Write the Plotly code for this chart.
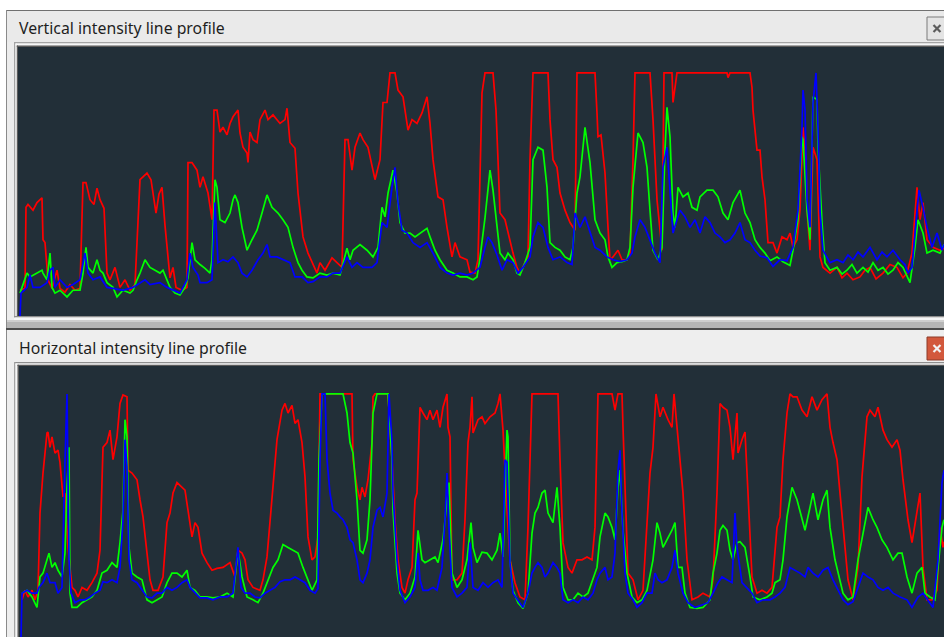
import plotly.graph_objects as go

W, H = 944, 637

# ---- Data: (sample position along the profile, intensity 0-255) ----
TOP_RED = [(2,27),(7,29),(8,114),(10,117),(15,111),(19,119),(24,124),(25,80),(27,77),(30,38),(34,29),(39,48),(42,29),(47,25),(52,33),(57,27),(62,29),(65,140),(68,140),(72,122),(76,117),(79,134),(82,122),(86,113),(89,45),(92,38),(97,51),(102,30),(107,38),(112,27),(117,33),(122,143),(129,150),(133,143),(138,108),(141,128),(144,135),(147,95),(152,40),(155,51),(158,30),(164,27),(169,30),(170,161),(174,161),(179,153),(182,135),(185,146),(190,129),(194,101),(196,216),(199,216),(202,193),(205,198),(209,190),(212,202),(215,209),(220,216),(222,192),(225,177),(229,171),(230,161),(232,193),(235,185),(239,182),(242,206),(247,216),(250,206),(255,211),(262,202),(267,206),(269,218),(272,182),(277,176),(280,129),(285,83),(290,66),(294,56),(299,45),(302,56),(307,48),(314,61),(319,56),(324,51),(327,185),(330,185),(334,153),(337,177),(342,192),(345,185),(350,177),(357,143),(362,164),(365,224),(369,224),(372,255),(377,255),(380,237),(385,230),(390,195),(394,206),(399,202),(404,213),(409,230),(412,202),(415,164),(420,125),(425,122),(429,93),(434,62),(437,77),(442,62),(449,59),(452,46),(457,45),(460,59),(464,234),(467,255),(475,255),(478,216),(480,164),(482,108),(487,101),(490,87),(495,66),(499,51),(502,45),(507,56),(510,62),(512,164),(515,255),(530,255),(532,206),(535,164),(539,156),(542,129),(547,111),(552,98),(557,90),(559,255),(577,255),(579,213),(580,188),(583,190),(587,150),(590,93),(592,59),(595,62),(600,69),(604,59),(609,59),(612,66),(615,164),(617,255),(632,255),(635,206),(639,122),(644,69),(646,255),(654,255),(655,224),(659,255),(709,255),(710,250),(712,255),(732,255),(734,240),(735,216),(739,174),(742,174),(744,146),(747,122),(750,77),(755,77),(759,66),(764,83),(769,80),(772,87),(775,72),(779,80),(782,111),(785,198),(788,164),(789,111),(792,69),(795,177),(799,164),(800,129),(802,62),(805,51),(812,45),(819,51),(824,40),(829,45),(835,38),(842,41),(847,48),(852,51),(858,39),(865,45),(872,54),(879,51),(885,40),(889,45),(894,66),(899,135),(902,101),(905,119),(909,80),(915,72),(922,69),(926,71)]

TOP_GREEN = [(2,24),(5,33),(9,45),(12,41),(19,45),(24,48),(25,45),(29,38),(32,66),(34,30),(37,24),(42,27),(49,20),(55,27),(62,27),(65,45),(68,72),(70,51),(75,45),(79,59),(82,48),(85,45),(89,35),(95,30),(99,20),(105,27),(112,24),(115,27),(119,38),(122,45),(127,59),(132,51),(137,48),(142,45),(145,48),(149,38),(152,30),(157,24),(162,22),(167,30),(170,40),(174,77),(177,59),(182,54),(187,50),(192,45),(194,59),(197,143),(199,135),(202,101),(207,98),(212,108),(215,122),(217,127),(220,119),(224,93),(229,69),(234,80),(239,90),(244,108),(249,127),(254,114),(260,108),(265,101),(270,93),(275,72),(280,56),(284,48),(289,41),(295,40),(302,45),(309,43),(315,45),(322,43),(325,56),(329,71),(332,59),(335,69),(342,75),(349,69),(355,62),(360,72),(364,114),(367,104),(370,129),(375,153),(379,129),(382,98),(387,87),(392,87),(397,83),(402,87),(409,92),(412,83),(417,69),(422,59),(429,48),(435,45),(442,41),(449,41),(455,38),(459,41),(462,61),(467,103),(472,153),(475,132),(479,90),(482,66),(487,59),(490,66),(495,59),(499,45),(502,43),(507,56),(512,72),(515,164),(520,177),(525,174),(529,135),(532,77),(537,72),(542,69),(547,62),(552,59),(555,72),(559,129),(562,146),(567,198),(572,161),(577,101),(582,87),(587,80),(590,62),(594,51),(599,56),(604,57),(609,59),(612,72),(615,135),(620,192),(625,182),(629,156),(632,111),(635,69),(640,59),(644,72),(647,174),(649,219),(652,188),(655,108),(657,93),(660,135),(665,125),(670,129),(674,114),(679,111),(682,125),(689,132),(695,132),(700,125),(705,108),(710,101),(715,119),(722,132),(727,108),(732,98),(737,80),(742,72),(747,66),(752,58),(759,62),(765,57),(772,53),(775,69),(780,101),(784,188),(785,185),(789,111),(792,80),(795,230),(799,227),(800,177),(804,98),(807,56),(812,48),(819,51),(824,44),(829,48),(834,54),(839,45),(845,51),(850,46),(855,56),(860,48),(865,51),(870,44),(875,48),(880,56),(885,51),(892,35),(897,72),(900,101),(905,87),(909,66),(915,69),(922,66),(926,75)]

TOP_BLUE = [(2,0),(3,24),(6,27),(9,30),(12,43),(15,30),(22,30),(29,35),(32,48),(35,51),(37,30),(42,38),(49,30),(55,33),(62,38),(67,66),(70,45),(75,38),(82,41),(89,30),(95,29),(105,27),(115,30),(122,35),(127,38),(132,33),(142,35),(149,30),(155,27),(162,24),(169,38),(172,66),(175,51),(180,43),(182,35),(189,35),(194,38),(197,119),(200,56),(205,59),(210,57),(215,62),(220,56),(224,45),(229,41),(234,48),(240,59),(245,66),(249,75),(252,62),(259,62),(265,59),(272,56),(277,41),(284,41),(290,35),(295,36),(302,41),(309,41),(315,45),(322,45),(329,62),(334,51),(339,56),(345,51),(354,51),(359,56),(364,98),(369,93),(374,135),(377,156),(380,119),(384,90),(389,87),(395,77),(402,72),(409,77),(415,66),(422,51),(429,45),(435,43),(442,45),(449,43),(455,45),(462,51),(467,72),(470,83),(474,77),(479,64),(484,48),(489,59),(495,56),(500,45),(505,51),(512,62),(515,83),(520,98),(525,93),(530,72),(535,59),(542,62),(549,56),(554,54),(557,108),(562,93),(567,104),(572,87),(577,72),(582,69),(589,62),(595,59),(602,57),(609,59),(614,66),(617,83),(622,101),(627,93),(632,80),(637,66),(642,56),(645,156),(649,177),(652,129),(655,87),(659,101),(662,111),(667,104),(672,93),(677,101),(682,87),(687,104),(692,98),(697,87),(702,83),(707,77),(712,80),(717,87),(722,98),(727,80),(732,77),(737,69),(742,63),(749,61),(755,52),(762,59),(769,58),(775,72),(780,111),(784,198),(785,237),(787,216),(789,122),(792,93),(795,224),(798,255),(800,198),(802,111),(805,69),(812,56),(819,59),(825,56),(830,64),(835,59),(840,67),(845,62),(852,72),(859,59),(864,67),(869,62),(875,69),(882,59),(887,54),(890,45),(894,51),(898,98),(901,132),(905,114),(909,93),(914,72),(919,87),(924,69),(926,75)]

BOT_RED = [(3,39),(6,49),(9,42),(13,49),(16,39),(19,49),(21,130),(24,172),(28,214),(29,215),(31,199),(33,210),(36,193),(39,196),(41,183),(44,147),(46,151),(49,94),(51,73),(53,52),(56,49),(59,42),(63,52),(68,49),(73,57),(78,67),(81,91),(83,151),(84,199),(88,204),(91,217),(94,186),(98,210),(101,245),(104,254),(108,252),(109,175),(113,172),(118,165),(121,144),(124,126),(128,88),(131,60),(134,49),(139,49),(144,63),(148,120),(151,130),(154,151),(158,162),(163,157),(166,154),(169,133),(173,105),(176,120),(179,115),(183,88),(188,78),(193,70),(198,72),(204,73),(211,78),(216,63),(219,91),(223,88),(226,81),(229,60),(234,52),(241,49),(244,60),(248,84),(251,120),(254,165),(258,207),(263,238),(266,245),(269,235),(273,243),(276,224),(279,228),(283,204),(286,168),(289,105),(293,81),(296,84),(299,105),(301,255),(333,255),(334,186),(338,157),(341,144),(343,157),(346,147),(349,165),(353,204),(354,252),(356,255),(369,255),(373,186),(376,123),(379,81),(383,52),(386,46),(389,60),(393,73),(396,144),(398,151),(401,241),(404,235),(408,228),(411,238),(414,228),(418,238),(421,220),(424,241),(428,255),(429,220),(431,210),(433,60),(438,60),(443,67),(446,123),(449,204),(451,220),(453,252),(454,214),(459,228),(463,231),(466,224),(471,231),(476,235),(479,245),(481,255),(484,217),(488,133),(491,81),(496,57),(501,42),(506,39),(509,115),(513,255),(539,255),(541,186),(544,99),(549,73),(553,67),(558,81),(563,81),(568,84),(573,81),(576,115),(579,255),(593,255),(596,238),(599,255),(603,255),(604,220),(606,151),(609,67),(614,60),(619,39),(624,49),(628,115),(631,172),(634,199),(637,255),(641,231),(644,241),(649,228),(653,220),(655,255),(658,220),(661,189),(664,151),(668,81),(673,39),(679,42),(684,46),(691,42),(694,60),(698,151),(701,245),(704,241),(708,238),(711,220),(714,186),(718,235),(719,193),(723,207),(726,215),(729,151),(733,63),(738,46),(743,49),(748,46),(753,52),(758,115),(761,126),(764,186),(768,235),(771,255),(774,252),(778,252),(783,238),(788,231),(793,252),(798,238),(803,249),(808,255),(811,220),(814,204),(818,186),(821,151),(826,91),(829,60),(834,39),(839,73),(843,168),(848,231),(851,238),(856,231),(859,241),(864,217),(868,207),(873,199),(878,207),(881,196),(884,165),(889,123),(893,99),(898,133),(901,151),(904,73),(908,39),(913,39),(918,49),(921,115),(924,94),(925,100)]

BOT_GREEN = [(3,46),(8,49),(13,42),(18,31),(21,63),(24,67),(28,81),(30,88),(33,73),(36,78),(39,70),(43,63),(46,88),(48,157),(50,199),(51,46),(53,31),(58,31),(63,36),(68,39),(73,42),(78,49),(83,67),(88,70),(93,78),(98,73),(101,99),(104,133),(106,228),(108,210),(110,94),(113,67),(118,63),(123,60),(128,39),(133,36),(138,39),(143,42),(148,57),(153,67),(158,67),(163,63),(168,70),(171,52),(176,49),(181,42),(188,42),(194,41),(201,42),(208,46),(214,42),(219,91),(223,63),(228,42),(234,39),(239,36),(244,46),(249,60),(254,73),(259,81),(264,97),(269,94),(274,91),(279,88),(284,73),(289,60),(293,49),(298,60),(300,186),(303,255),(324,255),(328,235),(331,204),(334,193),(338,144),(341,91),(344,88),(348,102),(351,144),(354,235),(358,255),(369,255),(373,186),(374,133),(378,67),(381,46),(386,39),(391,46),(396,63),(399,112),(403,81),(406,78),(411,81),(416,84),(419,78),(424,102),(428,144),(430,162),(433,67),(438,52),(443,60),(448,81),(452,120),(454,94),(458,78),(463,89),(468,88),(473,81),(478,91),(481,109),(484,84),(488,217),(489,210),(491,81),(494,49),(499,36),(504,30),(509,46),(513,109),(516,130),(519,136),(523,151),(526,154),(529,130),(534,120),(538,157),(541,115),(544,52),(549,39),(554,39),(559,46),(564,42),(569,46),(574,60),(578,73),(581,105),(586,130),(589,126),(593,115),(596,102),(599,157),(601,175),(604,112),(608,67),(613,42),(618,36),(623,39),(628,49),(631,67),(634,81),(638,120),(641,109),(644,94),(648,102),(653,112),(656,120),(659,73),(663,73),(666,46),(671,31),(678,30),(684,31),(691,39),(694,67),(698,88),(701,112),(704,117),(708,112),(711,91),(714,81),(718,99),(721,100),(726,94),(731,63),(734,42),(741,39),(748,42),(753,46),(756,57),(761,60),(764,81),(768,126),(773,157),(778,144),(783,123),(786,112),(791,136),(794,151),(799,123),(804,144),(808,154),(811,115),(816,81),(819,67),(824,46),(829,39),(834,42),(839,81),(844,109),(849,136),(854,123),(858,115),(863,102),(868,94),(874,81),(879,88),(883,88),(888,63),(893,46),(898,67),(903,73),(906,46),(911,42),(916,39),(919,73),(923,115),(925,123)]

BOT_BLUE = [(2,0),(3,46),(8,49),(13,46),(18,46),(20,52),(24,57),(28,67),(31,57),(36,57),(39,46),(43,52),(46,186),(48,255),(50,81),(52,46),(56,36),(61,39),(66,39),(71,42),(76,46),(81,49),(84,58),(88,57),(93,60),(98,57),(101,73),(104,123),(106,207),(108,178),(110,81),(113,60),(118,57),(123,49),(128,42),(133,41),(138,46),(143,46),(148,52),(153,49),(158,52),(163,57),(168,60),(171,52),(176,46),(181,41),(188,41),(194,39),(201,42),(208,42),(214,46),(219,94),(222,52),(226,46),(231,46),(236,42),(241,41),(246,46),(251,49),(256,52),(261,58),(266,60),(271,60),(276,63),(281,60),(286,57),(291,49),(296,46),(299,51),(301,186),(303,255),(306,255),(308,186),(311,151),(314,133),(318,130),(321,126),(324,123),(328,115),(331,102),(334,99),(338,81),(341,60),(344,57),(348,67),(351,81),(354,115),(358,133),(361,136),(364,126),(368,151),(370,255),(373,204),(374,151),(378,81),(381,49),(386,36),(391,42),(396,52),(399,88),(401,60),(404,49),(409,49),(414,52),(418,49),(423,73),(426,123),(428,172),(430,115),(433,52),(438,42),(443,46),(448,52),(451,99),(454,52),(459,49),(464,57),(469,52),(474,57),(479,60),(483,52),(486,186),(488,183),(491,78),(494,46),(499,39),(504,31),(509,46),(513,67),(516,73),(519,78),(523,73),(526,63),(529,67),(534,78),(538,73),(541,67),(544,39),(549,36),(554,39),(559,36),(564,42),(569,39),(574,46),(578,60),(581,67),(586,73),(589,60),(593,63),(596,88),(599,175),(601,196),(603,130),(606,67),(609,46),(614,39),(618,31),(623,36),(628,46),(633,46),(636,67),(639,60),(643,57),(648,60),(653,73),(656,91),(659,67),(664,46),(669,36),(676,31),(683,34),(689,36),(694,46),(699,57),(703,63),(708,60),(713,57),(716,130),(718,94),(723,57),(728,52),(733,46),(738,36),(744,39),(751,39),(756,42),(761,46),(766,52),(771,73),(776,70),(781,67),(786,63),(789,73),(794,67),(799,63),(804,70),(809,73),(814,60),(819,49),(824,39),(829,34),(834,37),(839,52),(844,67),(849,63),(854,60),(859,52),(864,49),(869,52),(874,46),(881,42),(888,39),(893,31),(899,42),(904,46),(909,39),(914,31),(919,81),(923,162),(925,175)]

TITLES = ["Vertical intensity line profile", "Horizontal intensity line profile"]
COLORS = {"R": "#ff0000", "G": "#00ff00", "B": "#0000ff"}

BG = "#222f38"

fig = go.Figure()

def add(series, color, xa, ya):
    xs = [p[0] for p in series]
    ys = [p[1] for p in series]
    fig.add_trace(go.Scatter(x=xs, y=ys, mode="lines", xaxis=xa, yaxis=ya,
                             line=dict(color=color, width=1.7),
                             showlegend=False, hoverinfo="skip"))

add(TOP_RED, COLORS["R"], "x", "y")
add(TOP_GREEN, COLORS["G"], "x", "y")
add(TOP_BLUE, COLORS["B"], "x", "y")
add(BOT_RED, COLORS["R"], "x2", "y2")
add(BOT_GREEN, COLORS["G"], "x2", "y2")
add(BOT_BLUE, COLORS["B"], "x2", "y2")

def px(x):
    return x / W

def py(y):
    return 1 - y / H

def rect(x0, y0, x1, y1, fill, layer="below"):
    return dict(type="rect", xref="paper", yref="paper",
                x0=px(x0), x1=px(x1), y0=py(y1), y1=py(y0),
                fillcolor=fill, line=dict(width=0), layer=layer)

def seg(x0, y0, x1, y1, color, w):
    return dict(type="line", xref="paper", yref="paper",
                x0=px(x0), x1=px(x1), y0=py(y0), y1=py(y1),
                line=dict(color=color, width=w), layer="above")

shapes = [
    # top window
    rect(6, 10, 960, 330, "#ececec"),
    rect(6, 10, 960, 11, "#707070"),
    rect(6, 10, 7, 330, "#8a8a8a"),
    rect(7, 11, 960, 42, "#eaeaea"),
    # sunken frame around top plot
    rect(14, 42, 960, 43.5, "#a4a4a4"),
    rect(14, 42, 15.5, 320, "#a4a4a4"),
    rect(15.5, 43.5, 960, 45.5, "#f7f7f7"),
    rect(15.5, 43.5, 16.8, 318, "#f7f7f7"),
    rect(16.8, 45.5, 960, 47, "#5a5a5a"),
    rect(16.8, 45.5, 18, 316, "#5a5a5a"),
    rect(14, 316, 960, 317.5, "#8e8e8e"),
    rect(14, 317.5, 960, 320, "#f6f6f6"),
    # band between windows
    rect(7, 320, 960, 328, "#b6b6b6"),
    rect(7, 320, 960, 322, "#cfcfcf"),
    rect(6, 328, 960, 330, "#4c4c4c"),
    # bottom window
    rect(6, 330, 960, 640, "#eeeeee"),
    rect(6, 330, 7, 640, "#8a8a8a"),
    rect(14, 362, 960, 363.5, "#8e8e8e"),
    rect(14, 362, 15.5, 640, "#a4a4a4"),
    rect(15.5, 363.5, 960, 364.8, "#f7f7f7"),
    rect(15.5, 363.5, 17.5, 640, "#f7f7f7"),
    rect(17.5, 364.8, 960, 366, "#5a5a5a"),
    rect(17.5, 364.8, 19, 640, "#5a5a5a"),
    # plot backgrounds
    rect(18, 47, 960, 316, BG),
    rect(19, 366, 960, 640, BG),
    # close buttons
    dict(type="rect", xref="paper", yref="paper", x0=px(927), x1=px(952),
         y0=py(40), y1=py(17), fillcolor="#e4e4e4",
         line=dict(color="#7a7a7a", width=1), layer="above"),
    dict(type="rect", xref="paper", yref="paper", x0=px(927), x1=px(952),
         y0=py(360), y1=py(337), fillcolor="#d2583c",
         line=dict(color="#8c3a28", width=1), layer="above"),
    seg(933.5, 25, 940.5, 32, "#5c5c5c", 2.2),
    seg(933.5, 32, 940.5, 25, "#5c5c5c", 2.2),
    seg(933.5, 345, 940.5, 352, "#f2f2f2", 2.2),
    seg(933.5, 352, 940.5, 345, "#f2f2f2", 2.2),
]

annotations = [
    dict(text=TITLES[0], xref="paper", yref="paper", x=px(17), y=py(27.5),
         xanchor="left", yanchor="middle", showarrow=False,
         font=dict(family="Noto Sans", size=15.8, color="#1e1e1e")),
    dict(text=TITLES[1], xref="paper", yref="paper", x=px(17), y=py(348),
         xanchor="left", yanchor="middle", showarrow=False,
         font=dict(family="Noto Sans", size=15.8, color="#1e1e1e")),
]

axis_common = dict(showgrid=False, zeroline=False, showticklabels=False,
                   ticks="", showline=False, fixedrange=True)

fig.update_layout(
    width=W, height=H,
    margin=dict(l=0, r=0, t=0, b=0, pad=0),
    paper_bgcolor="#ffffff",
    plot_bgcolor=BG,
    xaxis=dict(domain=[px(18), 1], range=[0, 926], anchor="y", **axis_common),
    yaxis=dict(domain=[py(316), py(47)], range=[0, 282.2], anchor="x", **axis_common),
    xaxis2=dict(domain=[px(19), 1], range=[0, 925], anchor="y2", **axis_common),
    yaxis2=dict(domain=[0, py(366)], range=[0, 284.3], anchor="x2", **axis_common),
    shapes=shapes,
    annotations=annotations,
)

fig.write_html(
    "out.html",
    config={"displayModeBar": False},
    post_script="document.body.style.margin='0';document.body.style.overflow='hidden';",
)
